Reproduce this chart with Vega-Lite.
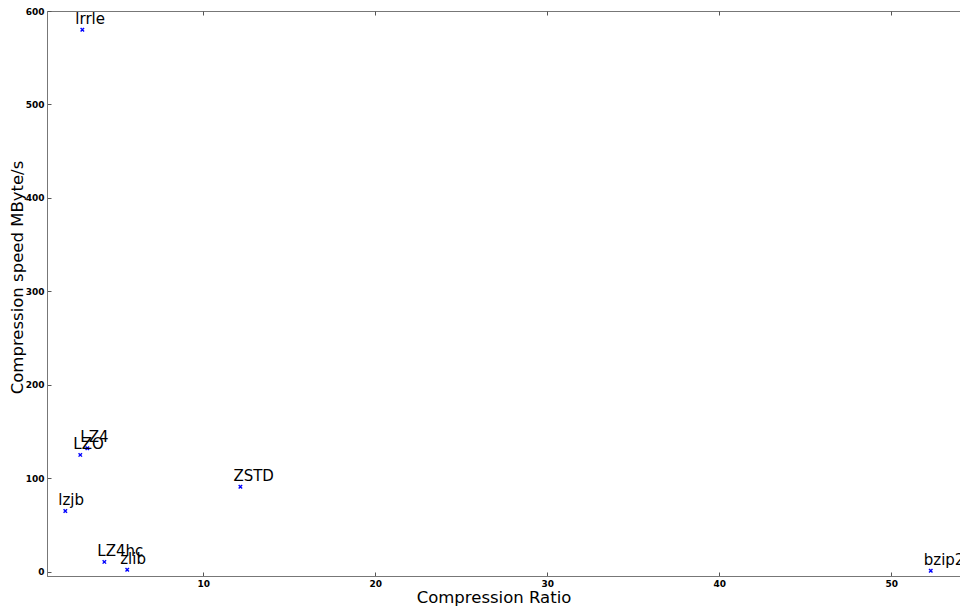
{
  "$schema": "https://vega.github.io/schema/vega-lite/v6.json",
  "autosize": {"type": "none"},
  "padding": {"left": 47, "top": 11, "right": 0, "bottom": 30},
  "width": 913,
  "height": 565,
  "background": "white",
  "config": {
    "view": {"stroke": "#777", "strokeWidth": 1},
    "font": "DejaVu Sans",
    "axis": {
      "grid": false,
      "domainColor": "#777",
      "tickColor": "#555",
      "tickSize": -4,
      "labelFont": "DejaVu Sans",
      "labelFontSize": 9,
      "labelFontWeight": "bold",
      "labelColor": "black",
      "titleFont": "DejaVu Sans",
      "titleFontSize": 16.5,
      "titleFontWeight": "normal",
      "titleColor": "black"
    }
  },
  "data": {
    "values": [
      {"algo": "lrrle", "ratio": 2.97, "speed": 580},
      {"algo": "LZ4", "ratio": 3.26, "speed": 132},
      {"algo": "LZO", "ratio": 2.85, "speed": 125},
      {"algo": "lzjb", "ratio": 1.98, "speed": 65},
      {"algo": "LZ4hc", "ratio": 4.25, "speed": 10.5},
      {"algo": "zlib", "ratio": 5.58, "speed": 2},
      {"algo": "ZSTD", "ratio": 12.16, "speed": 91},
      {"algo": "bzip2", "ratio": 52.3, "speed": 1}
    ]
  },
  "encoding": {
    "x": {"field": "ratio", "type": "quantitative", "scale": {"domain": [0.915, 54], "nice": false, "zero": false}},
    "y": {"field": "speed", "type": "quantitative", "scale": {"domain": [-4.6, 600], "nice": false, "zero": false}}
  },
  "layer": [
    {
      "mark": {"type": "point", "shape": "M-1,-1L1,1M-1,1L1,-1", "filled": false, "stroke": "#0000ff", "strokeWidth": 1.4, "size": 12, "opacity": 1},
      "encoding": {
        "x": {"field": "ratio", "type": "quantitative", "axis": {"orient": "bottom", "title": "Compression Ratio", "values": [10, 20, 30, 40, 50], "labelPadding": 7, "titleX": 446.5, "titleY": 21, "titleAlign": "center", "titleBaseline": "middle"}},
        "y": {"field": "speed", "type": "quantitative", "axis": {"orient": "left", "title": "Compression speed MByte/s", "values": [0, 100, 200, 300, 400, 500, 600], "labelPadding": 7, "titleX": -30, "titleY": 266, "titleAlign": "center", "titleBaseline": "middle", "titleAngle": -90}}
      }
    },
    {
      "mark": {"type": "text", "align": "left", "baseline": "alphabetic", "dx": -7, "dy": -6, "fontSize": 15, "font": "DejaVu Sans", "color": "black"},
      "encoding": {
        "text": {"field": "algo"},
        "x": {"field": "ratio", "type": "quantitative", "axis": {"orient": "top", "title": null, "labels": false, "domain": false, "values": [10, 20, 30, 40, 50]}},
        "y": {"field": "speed", "type": "quantitative", "axis": {"orient": "right", "title": null, "labels": false, "domain": false, "ticks": false}}
      }
    }
  ],
  "resolve": {"axis": {"x": "independent", "y": "independent"}}
}
